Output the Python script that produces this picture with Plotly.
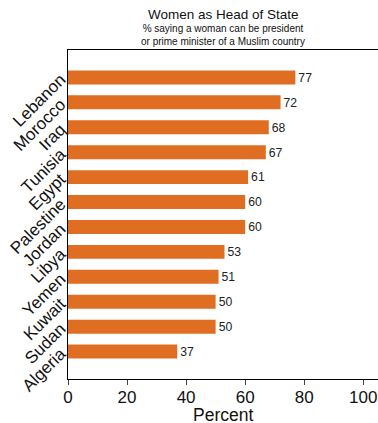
import plotly.graph_objects as go

countries = ["Lebanon", "Morocco", "Iraq", "Tunisia", "Egypt", "Palestine",
             "Jordan", "Libya", "Yemen", "Kuwait", "Sudan", "Algeria"]
values = [77, 72, 68, 67, 61, 60, 60, 53, 51, 50, 50, 37]
x_ticks = [0, 20, 40, 60, 80, 100]

FONT = "Liberation Sans, Arial, Helvetica, sans-serif"
ORANGE = "#E06E22"

fig = go.Figure(go.Bar(
    y=countries, x=values, orientation="h",
    marker=dict(color=ORANGE, line=dict(width=0)),
    width=0.56,
    text=[str(v) for v in values], textposition="outside",
    textfont=dict(family=FONT, size=14, color="#222"),
    cliponaxis=False,
))

fig.update_layout(
    width=378, height=423,
    margin=dict(l=68, r=0, t=50, b=44),
    plot_bgcolor="white", paper_bgcolor="white",
    showlegend=False,
    font=dict(family=FONT, color="#222"),
)
fig.add_annotation(text="Women as Head of State", xref="paper", yref="paper",
                   x=0.5, y=1, yanchor="bottom", yshift=26, showarrow=False,
                   font=dict(size=13.5, family=FONT, color="#111"))
fig.add_annotation(text="% saying a woman can be president<br>or prime minister of a Muslim country",
                   xref="paper", yref="paper", x=0.5, y=1, yanchor="bottom",
                   yshift=1, showarrow=False,
                   font=dict(size=10, family=FONT, color="#111"))
fig.add_annotation(text="Percent", xref="paper", yref="paper",
                   x=0.5, y=(379 - 415) / 329, yanchor="middle", showarrow=False,
                   font=dict(size=17.5, family=FONT, color="#111"))

fig.update_xaxes(
    range=[0, 105], tickvals=x_ticks, ticks="outside", ticklen=5,
    tickcolor="#444", showline=True, linecolor="black", linewidth=1,
    mirror=True, showgrid=False, zeroline=False, automargin=False,
    ticklabeloverflow="allow", ticklabelstandoff=-2,
    tickfont=dict(size=17, family=FONT, color="#111"),
)
fig.update_yaxes(
    autorange=False, range=[11 + 1.1, -1.1],
    categoryorder="array", categoryarray=countries,
    showline=True, linecolor="black", linewidth=1,
    showgrid=False, zeroline=False, ticks="", automargin=False,
    ticklabeloverflow="allow", ticklabelstandoff=3,
    tickangle=-45,
    tickfont=dict(size=17, family=FONT, color="#111"),
)

fig.write_html("out.html", config={"displayModeBar": False},
               post_script="document.body.style.margin='0';document.body.style.overflow='hidden';")
